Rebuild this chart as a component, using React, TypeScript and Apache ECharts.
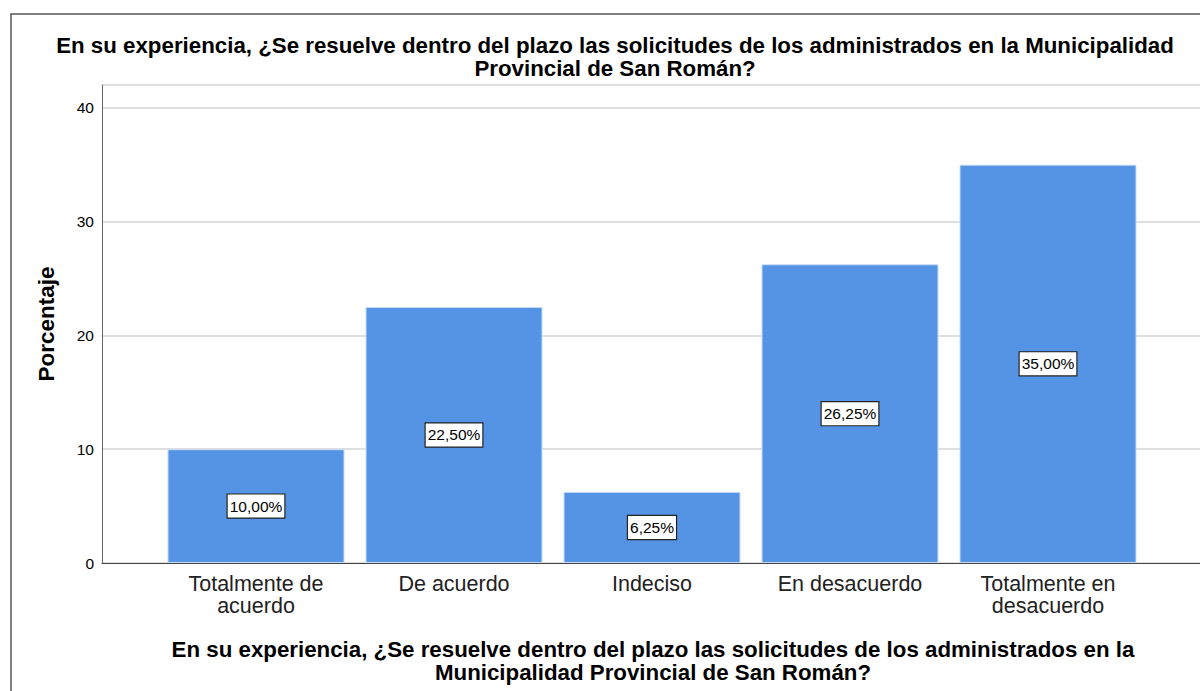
import React, { useEffect, useRef } from "react";
import * as echarts from "echarts";

const categories = ["Totalmente de\nacuerdo", "De acuerdo", "Indeciso", "En desacuerdo", "Totalmente en\ndesacuerdo"];
const values = [10.0, 22.5, 6.25, 26.25, 35.0];
const valueLabels = ["10,00%", "22,50%", "6,25%", "26,25%", "35,00%"];
const titleText = "En su experiencia, ¿Se resuelve dentro del plazo las solicitudes de los administrados en la Municipalidad\nProvincial de San Román?";
const xAxisTitle = "En su experiencia, ¿Se resuelve dentro del plazo las solicitudes de los administrados en la\nMunicipalidad Provincial de San Román?";
const yAxisTitle = "Porcentaje";

const FONT = "'Liberation Sans', Arial, sans-serif";

export default function App() {
  const ref = useRef<HTMLDivElement>(null);
  useEffect(() => {
    document.body.style.margin = "0";
    const chart = echarts.init(ref.current!, null, { renderer: "svg" });
    chart.setOption({
      animation: false,
      backgroundColor: "#ffffff",
      title: {
        text: titleText,
        left: 610,
        textAlign: "center",
        top: 29,
        textStyle: { fontFamily: FONT, fontSize: 22.3, fontWeight: "bold", color: "#000", lineHeight: 23 },
      },
      graphic: [
        {
          type: "polyline",
          shape: { points: [[11, 700], [11, 14], [1210, 14]] },
          style: { stroke: "#555", lineWidth: 1.5, fill: "none" },
          silent: true,
        },
        {
          type: "text",
          x: 653,
          y: 638,
          style: {
            text: xAxisTitle,
            font: `bold 22.3px ${FONT}`,
            fill: "#000",
            align: "center",
            lineHeight: 23,
          },
        },
      ],
      grid: [
        { left: 102, right: 0, top: 85, bottom: 128 },
        { left: 157, right: 53, top: 85, bottom: 128 },
      ],
      xAxis: [
        {
          gridIndex: 0,
          type: "value",
          min: 0,
          max: 1,
          show: true,
          axisLine: { show: true, onZero: false, lineStyle: { color: "#444", width: 1 } },
          axisTick: { show: false },
          axisLabel: { show: false },
          splitLine: { show: false },
        },
        {
          gridIndex: 1,
          type: "category",
          data: categories,
          axisLine: { show: false },
          axisTick: { show: false },
          axisLabel: {
            fontFamily: FONT,
            fontSize: 21.5,
            color: "#222",
            lineHeight: 22,
            margin: 10,
            interval: 0,
          },
        },
      ],
      yAxis: [
        {
          gridIndex: 0,
          type: "value",
          min: 0,
          max: 42,
          interval: 10,
          name: yAxisTitle,
          nameLocation: "middle",
          nameGap: 44,
          nameTextStyle: { fontFamily: FONT, fontSize: 22.5, fontWeight: "bold", color: "#000" },
          axisLine: { show: true, lineStyle: { color: "#666", width: 1 } },
          axisTick: { show: false },
          axisLabel: { fontFamily: FONT, fontSize: 15.5, color: "#000", margin: 8, showMaxLabel: false },
          splitLine: { show: true, lineStyle: { color: "#d4d4d4", width: 1.5 } },
        },
        {
          gridIndex: 1,
          type: "value",
          min: 0,
          max: 42,
          interval: 10,
          show: false,
          splitLine: { show: false },
        },
      ],
      series: [
        {
          type: "bar",
          xAxisIndex: 1,
          yAxisIndex: 1,
          data: values,
          barWidth: 177,
          itemStyle: { color: "#5594e4", borderColor: "#c9dcf5", borderWidth: 1 },
          label: {
            show: true,
            position: "inside",
            formatter: (p: any) => valueLabels[p.dataIndex],
            fontFamily: FONT,
            fontSize: 15.5,
            color: "#000",
            backgroundColor: "#fff",
            borderColor: "#222",
            borderWidth: 1.2,
            padding: [4, 2, 3, 2],
          },
        },
      ],
    });
    return () => chart.dispose();
  }, []);
  return <div ref={ref} style={{ width: 1200, height: 691 }} />;
}
